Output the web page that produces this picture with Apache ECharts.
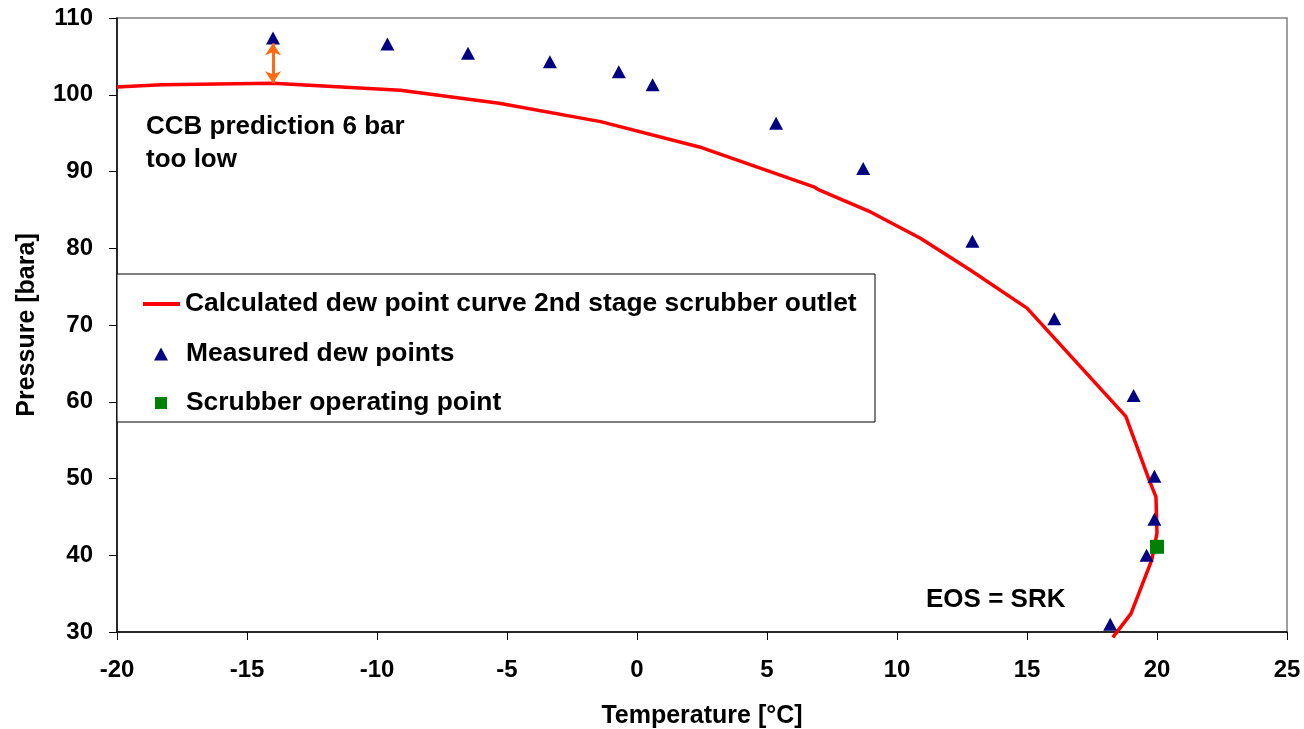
<!DOCTYPE html>
<html>
<head>
<meta charset="utf-8">
<title>Dew point curve</title>
<script src="https://cdn.jsdelivr.net/npm/echarts@6/dist/echarts.min.js"></script>
<style>
  html, body { margin: 0; padding: 0; background: #fff; }
  #chart { width: 1304px; height: 729px; }
</style>
</head>
<body>
<div id="chart"></div>
<script>
// Calculated dew point curve (temperature °C, pressure bara)
const curveTemp = [-20, -18.3, -14, -9.1, -5.3, -1.4, 2.4, 6.8, 7.0, 9.0, 10.9, 12.8, 15.0, 18.8, 19.7, 19.96, 20.0, 19.8, 19.0, 18.3];
const curvePres = [101.0, 101.3, 101.5, 100.6, 98.9, 96.5, 93.2, 88.0, 87.6, 84.7, 81.3, 77.2, 72.2, 58.1, 49.8, 47.6, 42.9, 39.4, 32.4, 29.3];

// Measured dew points
const measTemp = [-14.0, -9.6, -6.5, -3.35, -0.7, 0.6, 5.35, 8.7, 12.9, 16.05, 19.1, 19.9, 19.9, 19.6, 18.2];
const measPres = [107.4, 106.6, 105.4, 104.3, 103.0, 101.3, 96.3, 90.4, 80.9, 70.8, 60.8, 50.3, 44.7, 40.0, 31.0];

// Scrubber operating point
const opTemp = [20.0];
const opPres = [41.1];

// Gap between prediction and measurement at -14 °C
const gapTemp = -14;
const gapFrom = 101.5;
const gapTo = 106.7;

const seriesNames = [
  'Calculated dew point curve 2nd stage scrubber outlet',
  'Measured dew points',
  'Scrubber operating point'
];

const xTicks = { min: -20, max: 25, step: 5 };
const yTicks = { min: 30, max: 110, step: 10 };

const FONT = '"Liberation Sans", Arial, sans-serif';

const zip = (a, b) => a.map((v, i) => [v, b[i]]);

const chart = echarts.init(document.getElementById('chart'), null, { renderer: 'canvas' });

const legendText = (padLeft) => ({
  fontFamily: FONT, fontWeight: 'bold', fontSize: 26.4, color: '#000',
  padding: [0, 0, 0, padLeft]
});

chart.setOption({
  animation: false,
  backgroundColor: '#fff',
  grid: {
    left: 117, right: 17, top: 18, bottom: 97,
    outerBoundsMode: 'none',
    show: true, borderColor: '#808080', borderWidth: 1.5, backgroundColor: '#fff'
  },
  xAxis: {
    type: 'value',
    min: xTicks.min, max: xTicks.max, interval: xTicks.step,
    name: 'Temperature [°C]',
    nameLocation: 'middle', nameGap: 72,
    nameTextStyle: { fontFamily: FONT, fontWeight: 'bold', fontSize: 25, color: '#000' },
    axisLine: { show: true, onZero: false, lineStyle: { color: '#000', width: 1.5 } },
    axisTick: { show: true, inside: false, length: 8, lineStyle: { color: '#000', width: 1 } },
    axisLabel: { fontFamily: FONT, fontWeight: 'bold', fontSize: 24, color: '#000', margin: 26 },
    splitLine: { show: false }
  },
  yAxis: {
    type: 'value',
    min: yTicks.min, max: yTicks.max, interval: yTicks.step,
    name: 'Pressure [bara]',
    nameLocation: 'middle', nameGap: 77,
    nameTextStyle: { fontFamily: FONT, fontWeight: 'bold', fontSize: 25, color: '#000' },
    axisLine: { show: true, onZero: false, lineStyle: { color: '#000', width: 1.5 } },
    axisTick: { show: true, inside: false, length: 8, lineStyle: { color: '#000', width: 1 } },
    axisLabel: { fontFamily: FONT, fontWeight: 'bold', fontSize: 24, color: '#000', margin: 24 },
    splitLine: { show: false }
  },
  legend: [
    {
      data: [{ name: seriesNames[0], icon: 'rect' }],
      left: 138, top: 286,
      itemWidth: 37, itemHeight: 4,
      itemStyle: { color: '#ff0000' },
      textStyle: legendText(0),
      selectedMode: false
    },
    {
      data: [{ name: seriesNames[1], icon: 'triangle' }],
      left: 149, top: 336,
      itemWidth: 14, itemHeight: 13,
      itemStyle: { color: '#000080', opacity: 1 },
      textStyle: legendText(13),
      selectedMode: false
    },
    {
      data: [{ name: seriesNames[2], icon: 'rect' }],
      left: 150, top: 385,
      itemWidth: 12, itemHeight: 12,
      itemStyle: { color: '#008000', opacity: 1 },
      textStyle: legendText(14),
      selectedMode: false
    }
  ],
  graphic: [
    {
      type: 'rect', z: 1,
      shape: { x: 117, y: 274, width: 758, height: 148 },
      style: { fill: '#fff', stroke: '#000', lineWidth: 1 }
    },
    {
      type: 'text', left: 146, top: 110, z: 5,
      style: {
        text: 'CCB prediction 6 bar\ntoo low',
        font: 'bold 26px ' + FONT, fill: '#000', lineHeight: 33
      }
    },
    {
      type: 'text', left: 926, top: 587, z: 5,
      style: { text: 'EOS = SRK', font: 'bold 26px ' + FONT, fill: '#000' }
    }
  ],
  series: [
    {
      name: seriesNames[0],
      type: 'line',
      data: zip(curveTemp, curvePres),
      symbol: 'none',
      clip: false,
      color: '#ff0000',
      lineStyle: { color: '#ff0000', width: 3.5 },
      z: 2
    },
    {
      name: seriesNames[1],
      type: 'scatter',
      data: zip(measTemp, measPres),
      symbol: 'triangle',
      symbolSize: [14, 13],
      itemStyle: { color: '#000080', opacity: 1 },
      z: 3,
      markLine: {
        silent: true,
        symbol: ['arrow', 'arrow'],
        symbolSize: [12, 12],
        label: { show: false },
        lineStyle: { color: '#ff6a13', width: 3, type: 'solid', opacity: 1 },
        data: [[{ coord: [gapTemp, gapFrom] }, { coord: [gapTemp, gapTo] }]]
      }
    },
    {
      name: seriesNames[2],
      type: 'scatter',
      data: zip(opTemp, opPres),
      symbol: 'rect',
      symbolSize: 14,
      itemStyle: { color: '#008000', opacity: 1 },
      z: 4
    }
  ]
});
</script>
</body>
</html>
